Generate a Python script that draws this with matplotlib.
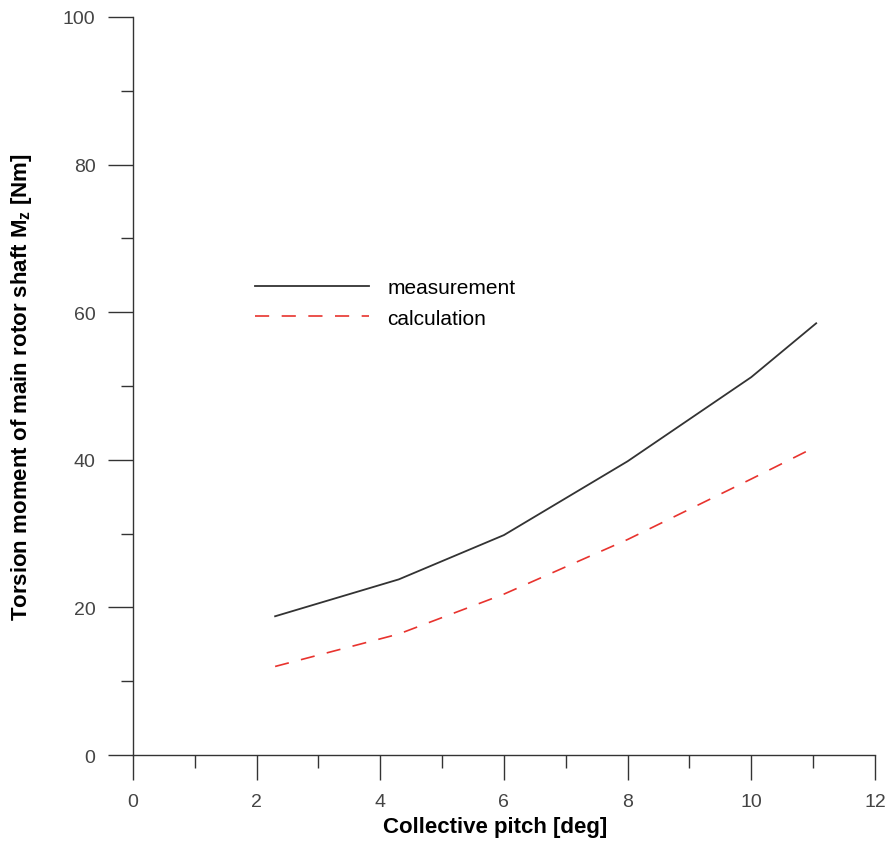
import numpy as np
import matplotlib.pyplot as plt
from matplotlib.ticker import MultipleLocator

plt.rcParams['font.family'] = ['Liberation Sans', 'DejaVu Sans']
plt.rcParams['mathtext.fontset'] = 'custom'
plt.rcParams['mathtext.rm'] = 'Liberation Sans:bold'
plt.rcParams['mathtext.it'] = 'Liberation Sans:bold'
plt.rcParams['mathtext.bf'] = 'Liberation Sans:bold'

# measured torsion moment
pitch_meas = [2.3, 4.3, 6.0, 8.0, 10.0, 11.05]
moment_meas = [18.8, 23.8, 29.8, 39.8, 51.2, 58.5]

# calculated torsion moment
pitch_calc = [2.3, 4.3, 6.0, 8.0, 10.0, 11.05]
moment_calc = [12.0, 16.4, 21.8, 29.2, 37.4, 41.8]

fig = plt.figure(figsize=(8.86, 8.45), dpi=100)
ax = fig.add_axes([0.150, 0.1053, 0.8375, 0.8734])

ax.plot(pitch_meas, moment_meas, color='#333333', lw=1.3, label='measurement')
ax.plot(pitch_calc, moment_calc, color='#e8332e', lw=1.2, dashes=(8.5, 7.5),
        label='calculation')

ax.set_xlim(0, 12)
ax.set_ylim(0, 100)
ax.xaxis.set_major_locator(MultipleLocator(2))
ax.xaxis.set_minor_locator(MultipleLocator(1))
ax.yaxis.set_major_locator(MultipleLocator(20))
ax.yaxis.set_minor_locator(MultipleLocator(10))

for s in ['top', 'right']:
    ax.spines[s].set_visible(False)
for s in ['left', 'bottom']:
    ax.spines[s].set_linewidth(1.0)
    ax.spines[s].set_color('#333333')

ax.tick_params(which='major', direction='out', length=18, width=1.0,
               color='#333333', labelsize=14, labelcolor='#444444', pad=9)
ax.tick_params(which='minor', direction='out', length=9, width=1.0, color='#333333')

ax.set_xlabel('Collective pitch [deg]', fontsize=16, fontweight='bold')
ax.set_ylabel('Torsion moment of main rotor shaft M$_z$ [Nm]', fontsize=16,
              fontweight='bold')
ax.xaxis.set_label_coords(0.488, -0.083)
ax.yaxis.set_label_coords(-0.133, 0.5)

leg = ax.legend(loc='upper left', bbox_to_anchor=(0.1644, 0.646), frameon=False,
                fontsize=15, handlelength=5.5, handletextpad=0.85,
                borderpad=0, borderaxespad=0, labelspacing=0.55)

fig.savefig('out.png', dpi=100)
